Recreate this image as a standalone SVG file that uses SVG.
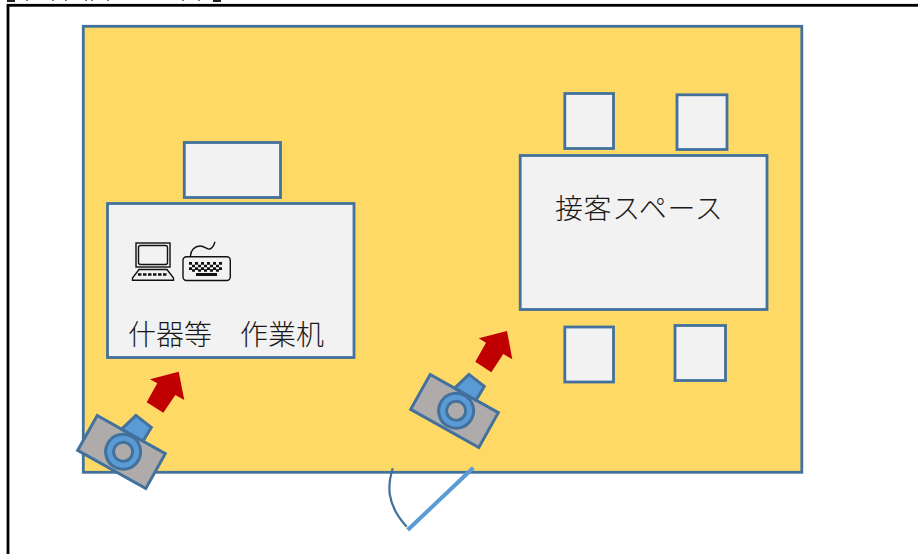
<svg xmlns="http://www.w3.org/2000/svg" width="918" height="554" viewBox="0 0 918 554">
<style>
.box{fill:#f2f2f2;stroke:#41719c;stroke-width:2.800}
.body{fill:#afabab;stroke:#41719c;stroke-width:3;stroke-linejoin:miter}
.blue{fill:#5b9bd5;stroke:#41719c;stroke-width:3}
.arrow{fill:#c00000}
.t{font-family:"Noto Sans CJK JP","Liberation Serif",serif;font-weight:300;font-size:28px;fill:#1a1a1a}
.ic{fill:none;stroke:#111;stroke-width:1.400}
</style>
<defs>
<g id="camera">
<rect x="-39" y="-20" width="78" height="40" class="body"/>
<path d="M-11,-20 L-5.300,-39 L14,-36 L13.500,-20 Z" class="blue"/>
<circle cx="1.300" cy="-1" r="17.500" class="blue" stroke-width="3.600"/>
<circle cx="1.300" cy="-1" r="9.500" class="body" stroke-width="3.600"/>
</g>
</defs>
<rect id="frame" x="8" y="5.300" width="930" height="570" fill="#fff" stroke="#000" stroke-width="2.800"/>
<g id="top-marks">
<rect x="7" y="0" width="8" height="2" fill="#222"/><rect x="213" y="0" width="8" height="2" fill="#222"/>
<path d="M26,0.500H28M52,0.500H54M65,0.500H67M85,0.500H87M91,0.500H93M107,0.500H109M182,0.500H184M198,0.500H200" stroke="#777" stroke-width="1" fill="none"/>
</g>
<g id="room"><rect x="83.300" y="26.300" width="718.500" height="446" fill="#ffd966" stroke="#41719c" stroke-width="2.800"/></g>
<g id="desk-chair"><rect x="184.300" y="142.500" width="96.200" height="55" class="box"/></g>
<g id="work-desk">
<rect x="107.500" y="203.500" width="246.500" height="154" class="box"/>
<text class="t" x="128" y="345">什器等　作業机</text>
</g>
<g id="laptop-icon">
<rect x="136" y="243" width="34" height="24" class="ic"/>
<rect x="138.500" y="245.500" width="29" height="19" rx="2" class="ic"/>
<path d="M139,269.500 L167,269.500 L173.500,278 L173.500,280.300 L132.500,280.300 L132.500,278 Z" class="ic"/>
<path d="M138,274.500 H168" stroke="#111" stroke-width="2.600" stroke-dasharray="3.500 1.500" fill="none"/>
</g>
<g id="keyboard-icon">
<rect x="183" y="256.800" width="47.300" height="23.700" rx="3.500" class="ic"/>
<path d="M190.500,256.500 C190.500,250 195,246 200,246 C205,246 207,250 210,249 C213,248 214,245 215,241.700" class="ic" stroke-width="1.800"/>
<path d="M189,263.300 H225 M189,268.700 H225" stroke="#111" stroke-width="2.700" stroke-dasharray="3 3" fill="none"/>
<path d="M192,266 H222 M192,270.500 H222" stroke="#111" stroke-width="2.700" stroke-dasharray="3 3" fill="none"/>
<rect x="196" y="273" width="21" height="3" fill="#111"/>
</g>
<g id="meeting-table">
<rect x="520.200" y="155.500" width="246.800" height="154" class="box"/>
<text class="t" x="555" y="219" letter-spacing="0.600">接客スペース</text>
</g>
<g id="chair-1"><rect x="564.800" y="93.500" width="48.700" height="55" class="box"/></g>
<g id="chair-2"><rect x="677" y="94.800" width="50" height="54.700" class="box"/></g>
<g id="chair-3"><rect x="564.800" y="327" width="48.700" height="55" class="box"/></g>
<g id="chair-4"><rect x="675" y="325.500" width="50.500" height="55" class="box"/></g>
<g id="camera-1"><use href="#camera" transform="translate(121.500,452) rotate(29.200)"/></g>
<g id="camera-2"><use href="#camera" transform="translate(454.500,411) rotate(29.200)"/></g>
<g id="connectors">
<polygon class="arrow" points="178.700,371.700 184.300,400 175.300,395 163.300,412.700 146.700,402.300 157.300,383.300 150,379.300"/>
<polygon class="arrow" points="507,331 512.300,359.300 503.300,354 491.300,372.300 475.300,361.700 486,342.700 478.700,338.300"/>
</g>
<g id="door">
<path d="M392.700,468.300 C388,484 385,503 406.700,526.700" fill="none" stroke="#41719c" stroke-width="2.200"/>
<path d="M473.300,467.700 L407.700,530" fill="none" stroke="#5b9bd5" stroke-width="4"/>
</g>
</svg>
